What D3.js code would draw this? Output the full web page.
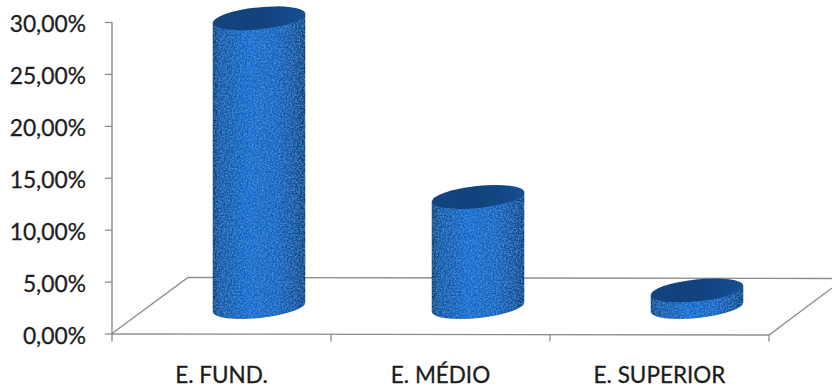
<!DOCTYPE html>
<html>
<head>
<meta charset="utf-8">
<script src="https://cdn.jsdelivr.net/npm/d3@7"></script>
<style>
  html, body { margin: 0; background: #fff; }
  text { font-family: Lato, "Open Sans", sans-serif; fill: #1c1c1c; stroke: #1c1c1c; stroke-width: 0.3px; }
</style>
</head>
<body>
<script>
const categories = ["E. FUND.", "E. MÉDIO", "E. SUPERIOR"];
const shares = [27.8, 10.6, 1.6];
const yTicks = [0, 5, 10, 15, 20, 25, 30];

const width = 832, height = 391;
const svg = d3.select("body").append("svg")
  .attr("width", width).attr("height", height)
  .style("display", "block");

const y = d3.scaleLinear().domain([0, 30]).range([333.5, 22]);
const x = d3.scaleBand().domain(categories).range([112, 769]);

// Oblique projection of the chart floor: depth shifts points right and up.
const depth = { dx: 76, dy: -56 };
const barDepth = { dx: 37.5, dy: -26.5 };
const rx = 46.5, ry = 11, tilt = -6;
const axisColor = "#8f8a8a";

const defs = svg.append("defs");

const side = defs.append("linearGradient").attr("id", "side");
[[0, "#0c3268"], [0.07, "#14509e"], [0.4, "#1966c8"], [0.7, "#175fbc"], [0.92, "#114794"], [1, "#0d3874"]]
  .forEach(([o, c]) => side.append("stop").attr("offset", o).attr("stop-color", c));

const cap = defs.append("linearGradient").attr("id", "cap");
[[0, "#124580"], [0.5, "#10427c"], [1, "#164e92"]]
  .forEach(([o, c]) => cap.append("stop").attr("offset", o).attr("stop-color", c));

// Fine speckle laid over the cylinder surfaces.
const grain = defs.append("filter").attr("id", "grain")
  .attr("x", "0").attr("y", "0").attr("width", "100%").attr("height", "100%");
grain.append("feTurbulence").attr("type", "fractalNoise").attr("baseFrequency", 0.6)
  .attr("numOctaves", 2).attr("seed", 4).attr("result", "noise");
grain.append("feColorMatrix").attr("in", "noise").attr("type", "matrix")
  .attr("values", "0 0 0 0 0.12  0 0 0 0 0.5  0 0 0 0 1  0 0 0 1.0 -0.36").attr("result", "speck");
grain.append("feComposite").attr("in", "speck").attr("in2", "SourceGraphic")
  .attr("operator", "in").attr("result", "clipped");
grain.append("feMerge").selectAll("feMergeNode")
  .data(["SourceGraphic", "clipped"]).join("feMergeNode").attr("in", d => d);

// Floor parallelogram, open along the right-hand back corner.
const x0 = x.range()[0], x1 = x.range()[1], y0 = y(0);
const floor = svg.append("g").attr("fill", "none").attr("stroke", axisColor).attr("stroke-width", 1.3);
floor.append("path").attr("d", d3.line()([
  [x0, y0], [x0 + depth.dx, y0 + depth.dy], [width, y0 + depth.dy + 1]
]));
floor.append("path").attr("d", d3.line()([
  [x0, y0 + 0.5], [x1, y0 + 1.5], [width, y0 + 1.5 - 47]
]));

// Value axis
const yAxis = svg.append("g").attr("transform", `translate(${x0},0)`)
  .call(d3.axisLeft(y).tickValues(yTicks).tickSize(7)
    .tickFormat(d => d3.format(".2f")(d).replace(".", ",") + "%"));
yAxis.select(".domain").attr("stroke", axisColor).attr("stroke-width", 1.4)
  .attr("d", `M0,${y(30)}V${y0 + 8}`);
yAxis.selectAll(".tick line").attr("stroke", axisColor).attr("stroke-width", 1.3);
yAxis.selectAll("text").attr("x", -26).attr("dy", "0.42em")
  .style("font-size", "22.8px").attr("fill", null);

// Category axis
const xAxis = svg.append("g").attr("transform", `translate(0,${y0 + 1})`)
  .call(d3.axisBottom(x).tickSize(0).tickPadding(33));
xAxis.select(".domain").remove();
xAxis.selectAll("text").style("font-size", "22.5px").attr("fill", null);
const catEdges = [...categories.map(c => x(c)), x1];
svg.append("g").selectAll("line").data(catEdges.slice(1)).join("line")
  .attr("x1", d => d).attr("x2", d => d)
  .attr("y1", y0 + 1).attr("y2", y0 + 8)
  .attr("stroke", axisColor).attr("stroke-width", 1.3);

// Cylinders: a body bounded by two tilted ellipses, plus a darker top cap.
const rad = tilt * Math.PI / 180;
const edge = (s) => [s * rx * Math.cos(rad), s * rx * Math.sin(rad)];

const bars = svg.append("g").selectAll("g")
  .data(categories.map((c, i) => ({ c, v: shares[i] })))
  .join("g")
  .attr("transform", d =>
    `translate(${x(d.c) + x.bandwidth() / 2 + barDepth.dx},0)`);

bars.append("path")
  .attr("d", d => {
    const top = y(d.v) + barDepth.dy, base = y0 + barDepth.dy;
    const [ax, ay] = edge(-1), [bx, by] = edge(1);
    return `M${ax},${top + ay}L${ax},${base + ay}` +
      `A${rx},${ry} ${tilt} 0 0 ${bx},${base + by}` +
      `L${bx},${top + by}Z`;
  })
  .attr("fill", "url(#side)")
  .attr("filter", "url(#grain)");

bars.append("ellipse")
  .attr("rx", rx).attr("ry", ry)
  .attr("transform", d => `translate(0,${y(d.v) + barDepth.dy}) rotate(${tilt})`)
  .attr("fill", "url(#cap)");
</script>
</body>
</html>
